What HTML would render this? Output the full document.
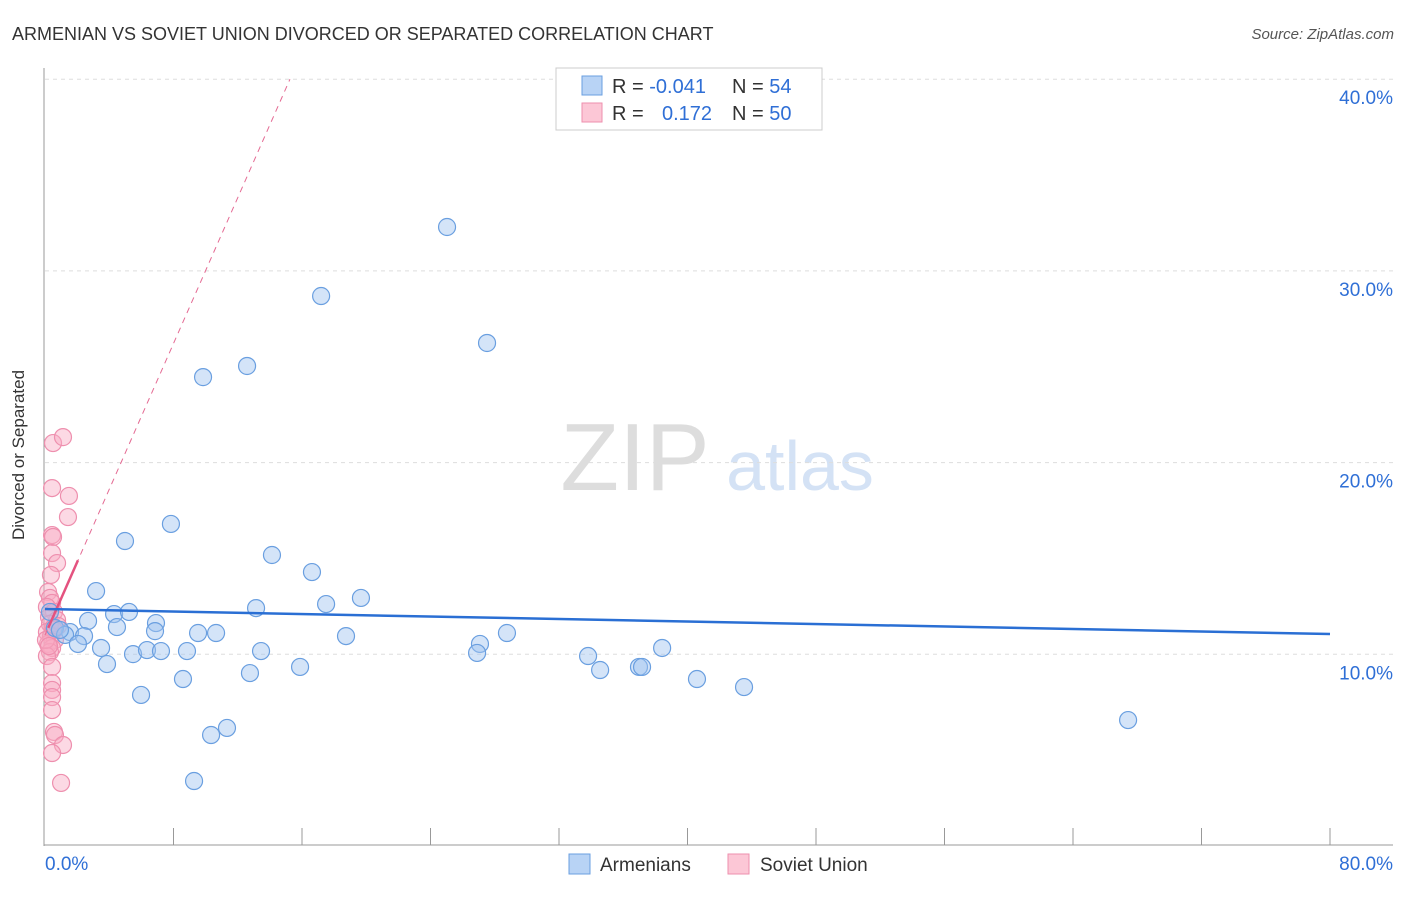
<!DOCTYPE html>
<html><head><meta charset="utf-8"><style>
body{margin:0;background:#fff;font-family:"Liberation Sans",sans-serif}
svg text{font-family:"Liberation Sans",sans-serif}
</style></head><body>
<svg width="1406" height="892" xmlns="http://www.w3.org/2000/svg">
<text x="12" y="40" font-size="18" fill="#333">ARMENIAN VS SOVIET UNION DIVORCED OR SEPARATED CORRELATION CHART</text>
<text x="1394" y="39" font-size="15" fill="#555" text-anchor="end" font-style="italic">Source: ZipAtlas.com</text>
<g>
<text x="635" y="490" font-size="96" fill="#ddd" text-anchor="middle" font-family="Liberation Serif, serif">ZIP</text>
<text x="800" y="490" font-size="70" fill="#d4e2f5" text-anchor="middle">atlas</text>
</g>
<g id="grid"></g>
<g id="axes"></g>
<g id="marks"></g>
<text x="24" y="455" font-size="17" fill="#333" text-anchor="middle" transform="rotate(-90 24 455)">Divorced or Separated</text>
<g>
<rect x="556" y="68" width="266" height="62" fill="#fff" stroke="#ccc"/>
<rect x="582" y="76" width="20" height="19" fill="#b8d3f5" stroke="#6a9fe0"/>
<rect x="582" y="103" width="20" height="19" fill="#fcc7d6" stroke="#ee8fae"/>
<text x="612" y="93" font-size="20" fill="#333">R = <tspan fill="#2f6fd6">-0.041</tspan></text>
<text x="732" y="93" font-size="20" fill="#333">N = <tspan fill="#2f6fd6">54</tspan></text>
<text x="612" y="120" font-size="20" fill="#333">R = <tspan fill="#2f6fd6" x="662">0.172</tspan></text>
<text x="732" y="120" font-size="20" fill="#333">N = <tspan fill="#2f6fd6">50</tspan></text>
</g>
<g>
<rect x="569" y="854" width="21" height="20" fill="#b8d3f5" stroke="#6a9fe0"/>
<text x="600" y="871" font-size="19" fill="#333">Armenians</text>
<rect x="728" y="854" width="21" height="20" fill="#fcc7d6" stroke="#ee8fae"/>
<text x="760" y="871" font-size="19" fill="#333">Soviet Union</text>
</g>
</svg>
<script>
const yTicks=[10,20,30,40];
const yTickLabels=["10.0%","20.0%","30.0%","40.0%"];
const xTickLabels=["0.0%","80.0%"];
const armX=[25.03,17.19,27.52,9.84,12.58,7.84,4.98,14.13,16.62,3.18,19.67,17.50,13.14,4.30,5.23,6.91,2.68,4.48,6.85,1.56,2.43,0.62,1.25,9.53,10.65,18.74,28.76,27.08,26.90,3.49,2.05,5.48,6.35,7.22,8.84,13.45,33.81,38.42,3.86,15.88,12.76,34.56,36.98,37.17,8.59,40.59,43.52,5.98,11.33,10.34,67.43,9.28,0.31,0.93];
const armY=[32.29,28.69,26.24,24.46,25.04,16.80,15.91,15.18,14.29,13.30,12.94,12.62,12.41,12.10,12.21,11.63,11.74,11.42,11.21,11.16,10.95,11.37,11.01,11.11,11.11,10.95,11.11,10.54,10.07,10.33,10.54,10.01,10.22,10.17,10.17,10.17,9.91,10.33,9.49,9.34,9.02,9.18,9.34,9.34,8.71,8.71,8.29,7.88,6.16,5.79,6.57,3.39,12.21,11.27];
const sovX=[0.50,1.12,0.44,1.49,1.43,0.44,0.50,0.44,0.75,0.37,0.19,0.31,0.44,0.12,0.56,0.25,0.75,0.31,0.50,0.12,0.37,0.62,0.19,0.44,0.31,0.12,0.56,0.81,0.06,0.25,0.44,0.44,0.44,0.44,0.44,0.56,0.62,1.12,0.44,1.00];
const sovY=[21.02,21.33,18.67,18.26,17.16,16.22,16.12,15.28,14.76,14.14,13.25,12.94,12.68,12.47,12.21,11.94,11.79,11.58,11.37,11.16,10.95,10.75,10.54,10.33,10.12,9.91,11.27,11.48,10.75,10.43,9.34,8.50,8.14,7.77,7.09,5.95,5.79,5.27,4.85,3.29];
const armTrend=[[0,12.36],[80,11.06]];
const sovTrendSolid=[[0.2,11.38],[2.05,14.9]];
const sovTrendDash=[[0,11.0],[15.25,40]];
const NS="http://www.w3.org/2000/svg";
const X=v=>45+v/80*1285, Y=v=>846-v/10*191.7;
function mk(p,t,a){const e=document.createElementNS(NS,t);for(const k in a)e.setAttribute(k,a[k]);p.appendChild(e);return e;}
const grid=document.getElementById('grid'),axes=document.getElementById('axes'),marks=document.getElementById('marks');
yTicks.forEach((v,i)=>{
 const l=mk(grid,'line',{x1:45,x2:1393,y1:Y(v),y2:Y(v),stroke:'#ddd','stroke-dasharray':'4,4'});
 
 
 const t=mk(axes,'text',{x:1393,y:Y(v)+25,'font-size':19,fill:'#2f6fd6','text-anchor':'end'});t.textContent=yTickLabels[i];
 
 
});
let a=mk(axes,'line',{x1:44,x2:44,y1:68,y2:846,stroke:'#999'});


a=mk(axes,'line',{x1:44,x2:1393,y1:845,y2:845,stroke:'#999'});


for(let i=1;i<=10;i++){const tk=mk(axes,'line',{x1:X(i*8),x2:X(i*8),y1:828,y2:845,stroke:'#999'});
 
 }
let t=mk(axes,'text',{x:45,y:870,'font-size':19,fill:'#2f6fd6'});t.textContent=xTickLabels[0];


t=mk(axes,'text',{x:1393,y:870,'font-size':19,fill:'#2f6fd6','text-anchor':'end'});t.textContent=xTickLabels[1];


sovX.forEach((x,i)=>{const c=mk(marks,'circle',{cx:X(x),cy:Y(sovY[i]),r:8.5,fill:'rgba(248,170,195,0.45)',stroke:'#ee8fae','stroke-width':1.2});
 
 });
armX.forEach((x,i)=>{const c=mk(marks,'circle',{cx:X(x),cy:Y(armY[i]),r:8.5,fill:'rgba(160,196,240,0.45)',stroke:'#6a9fe0','stroke-width':1.2});
 
 });
let l=mk(marks,'line',{x1:X(sovTrendDash[0][0]),y1:Y(sovTrendDash[0][1]),x2:X(sovTrendDash[1][0]),y2:Y(sovTrendDash[1][1]),stroke:'#e46a93','stroke-width':1,'stroke-dasharray':'6,5'});


l=mk(marks,'line',{x1:X(sovTrendSolid[0][0]),y1:Y(sovTrendSolid[0][1]),x2:X(sovTrendSolid[1][0]),y2:Y(sovTrendSolid[1][1]),stroke:'#e4527f','stroke-width':2.5});


l=mk(marks,'line',{x1:X(armTrend[0][0]),y1:Y(armTrend[0][1]),x2:X(armTrend[1][0]),y2:Y(armTrend[1][1]),stroke:'#2a6fd4','stroke-width':2.5});


</script>
</body></html>
